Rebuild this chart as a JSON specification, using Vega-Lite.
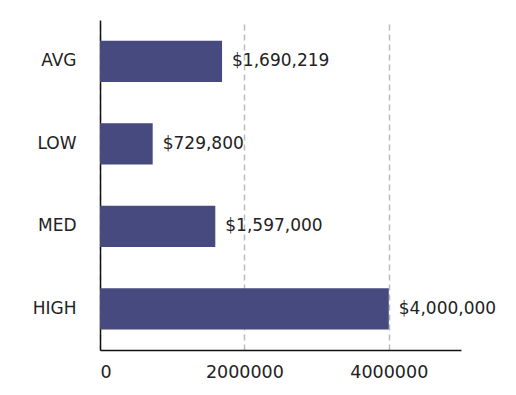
{
  "$schema": "https://vega.github.io/schema/vega-lite/v6.json",
  "width": 361,
  "height": 330,
  "autosize": {"type": "none"},
  "padding": {"left": 100, "top": 20, "right": 55, "bottom": 45},
  "background": "white",
  "config": {"view": {"stroke": null}, "font": "DejaVu Sans"},
  "data": {"values": [
    {"cat": "AVG", "value": 1690219},
    {"cat": "LOW", "value": 729800},
    {"cat": "MED", "value": 1597000},
    {"cat": "HIGH", "value": 4000000}
  ]},
  "encoding": {
    "y": {"field": "cat", "type": "nominal", "sort": ["AVG", "LOW", "MED", "HIGH"],
      "scale": {"paddingInner": 0.5, "paddingOuter": 0.25},
      "axis": {"title": null, "ticks": false, "labelPadding": 24, "labelFontSize": 17, "labelColor": "#222", "domainColor": "#111", "domainWidth": 1.5, "labelFont": "DejaVu Sans"}},
    "x": {"field": "value", "type": "quantitative",
      "scale": {"domain": [0, 5000000], "nice": false},
      "axis": {"title": null, "values": [0, 2000000, 4000000], "format": "d", "ticks": false, "labelPadding": 13, "labelFontSize": 17.5, "labelColor": "#222", "domainColor": "#111", "domainWidth": 1.5, "gridDash": [6, 4], "gridColor": "#bbbbbb", "gridWidth": 1.5, "labelFont": "DejaVu Sans"}}
  },
  "layer": [
    {"mark": {"type": "bar", "color": "#464a7e"}},
    {"mark": {"type": "text", "align": "left", "dx": 10, "fontSize": 17, "color": "#222", "font": "DejaVu Sans"},
      "encoding": {"text": {"field": "value", "type": "quantitative", "format": "$,.0f"}}}
  ]
}
